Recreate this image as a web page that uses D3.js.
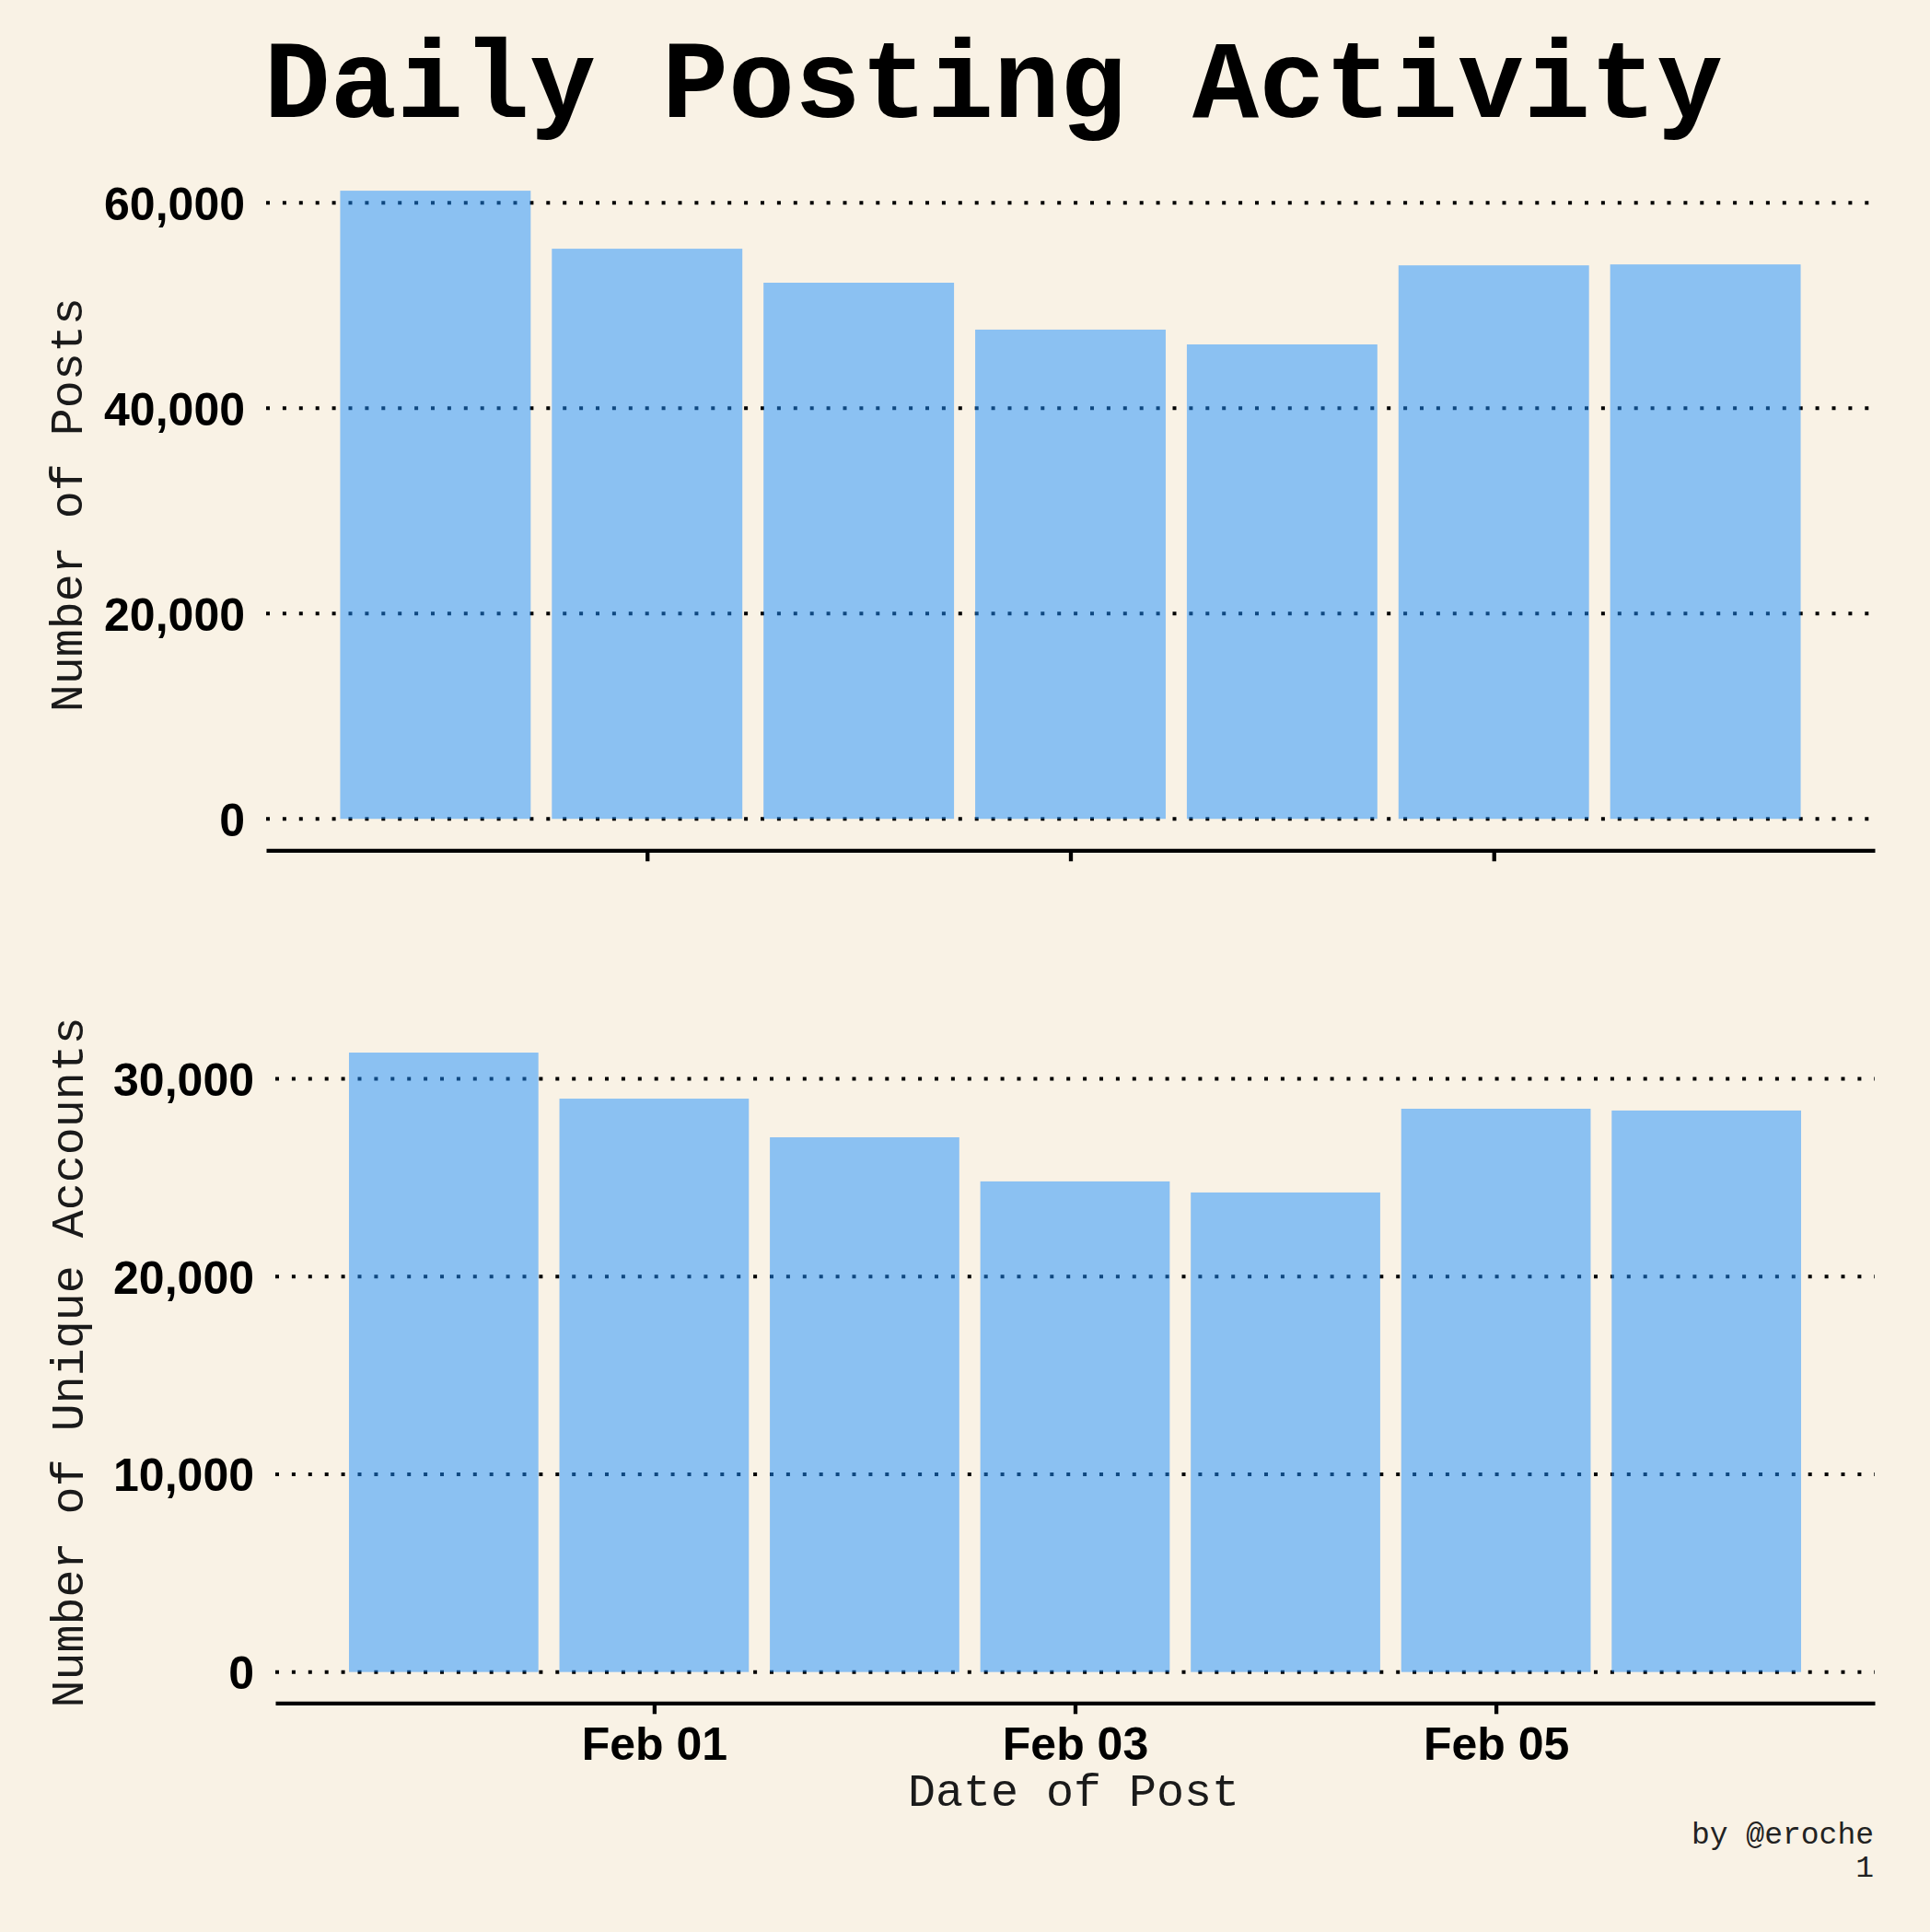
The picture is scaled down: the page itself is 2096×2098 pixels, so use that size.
<!DOCTYPE html>
<html>
<head>
<meta charset="utf-8">
<script src="https://cdn.jsdelivr.net/npm/d3@7"></script>
<style>
  html, body { margin: 0; padding: 0; background: #f9f2e5; }
  svg { display: block; }
</style>
</head>
<body>
<script>
// ---- data ----
const dates = ["2023-01-31", "2023-02-01", "2023-02-02", "2023-02-03", "2023-02-04", "2023-02-05", "2023-02-06"];
const posts = [61180, 55530, 52220, 47650, 46210, 53910, 54000];
const accounts = [31330, 29000, 27045, 24815, 24255, 28490, 28400];
const postTicks = [0, 20000, 40000, 60000];
const accountTicks = [0, 10000, 20000, 30000];
const xTickDates = ["2023-02-01", "2023-02-03", "2023-02-05"];

const W = 2096, H = 2098;
const parse = d3.utcParse("%Y-%m-%d");
const DAY = 864e5;
const dd = dates.map(parse);

const svg = d3.select("body").append("svg").attr("width", W).attr("height", H);
svg.append("rect").attr("width", W).attr("height", H).attr("fill", "#f9f2e5");

svg.append("text")
  .attr("x", 1079).attr("y", 127)
  .attr("text-anchor", "middle")
  .attr("font-family", "'Liberation Mono', 'DejaVu Sans Mono', monospace")
  .attr("font-weight", "bold")
  .attr("font-size", 120)
  .attr("fill", "#000")
  .text("Daily Posting Activity");

function panel(cfg) {
  const { values, ticks, left, right, top, bottom, ylabel, ylabelX, tickLabelX, showXLabels } = cfg;
  const M = d3.max(values);
  const x = d3.scaleUtc()
    .domain([new Date(dd[0].getTime() - 0.8 * DAY), new Date(dd[dd.length - 1].getTime() + 0.8 * DAY)])
    .range([left, right]);
  const y = d3.scaleLinear().domain([-0.05 * M, 1.05 * M]).range([bottom, top]);
  const g = svg.append("g");

  // grid lines (dotted)
  g.selectAll("line.grid").data(ticks).join("line")
    .attr("x1", left).attr("x2", right)
    .attr("y1", d => y(d)).attr("y2", d => y(d))
    .attr("stroke", "#000").attr("stroke-width", 4)
    .attr("stroke-dasharray", "4 13.9");

  // y tick labels
  const fmt = d3.format(",");
  g.selectAll("text.ytl").data(ticks).join("text")
    .attr("x", tickLabelX).attr("y", d => y(d)).attr("dy", "0.37em")
    .attr("text-anchor", "end")
    .attr("font-family", "'Liberation Sans', Arial, sans-serif")
    .attr("font-weight", "bold").attr("font-size", 50)
    .attr("fill", "#000")
    .text(d => fmt(d));

  // bars (semi-transparent over grid)
  const bw = x(new Date(dd[0].getTime() + 0.9 * DAY)) - x(dd[0]);
  g.selectAll("rect.bar").data(values).join("rect")
    .attr("x", (d, i) => x(dd[i]) - bw / 2)
    .attr("width", bw)
    .attr("y", d => y(d))
    .attr("height", d => y(0) - y(d))
    .attr("fill", "dodgerblue").attr("fill-opacity", 0.5);

  // bottom spine
  const xAxis = d3.axisBottom(x)
    .tickValues(xTickDates.map(parse))
    .tickSize(12)
    .tickSizeOuter(0)
    .tickPadding(14)
    .tickFormat(showXLabels ? d3.utcFormat("%b %d") : () => "");
  const ax = g.append("g").attr("transform", `translate(0,${bottom})`).call(xAxis);
  ax.select(".domain").attr("stroke", "#000").attr("stroke-width", 4.3);
  ax.selectAll(".tick line").attr("stroke", "#000").attr("stroke-width", 4.3);
  ax.selectAll(".tick text")
    .attr("font-family", "'Liberation Sans', Arial, sans-serif")
    .attr("font-weight", "bold").attr("font-size", 50).attr("fill", "#000");

  // y label
  g.append("text")
    .attr("transform", `translate(${ylabelX},${(top + bottom) / 2}) rotate(-90)`)
    .attr("text-anchor", "middle")
    .attr("font-family", "'Liberation Mono', 'DejaVu Sans Mono', monospace")
    .attr("font-size", 50).attr("fill", "#1a1a1a")
    .text(ylabel);
}

panel({ values: posts, ticks: postTicks, left: 289, right: 2036, top: 173, bottom: 923.3,
  ylabel: "Number of Posts", ylabelX: 89, tickLabelX: 266, showXLabels: false });
panel({ values: accounts, ticks: accountTicks, left: 299, right: 2036, top: 1109.4, bottom: 1849.3,
  ylabel: "Number of Unique Accounts", ylabelX: 90, tickLabelX: 276, showXLabels: true });

svg.append("text")
  .attr("x", 1166).attr("y", 1961)
  .attr("text-anchor", "middle")
  .attr("font-family", "'Liberation Mono', 'DejaVu Sans Mono', monospace")
  .attr("font-size", 50).attr("fill", "#1a1a1a")
  .text("Date of Post");

const credit = svg.append("text")
  .attr("text-anchor", "end")
  .attr("font-family", "'Liberation Mono', 'DejaVu Sans Mono', monospace")
  .attr("font-size", 33).attr("fill", "#222");
credit.append("tspan").attr("x", 2035).attr("y", 2002).text("by @eroche");
credit.append("tspan").attr("x", 2035).attr("y", 2038).text("1");
</script>
</body>
</html>
